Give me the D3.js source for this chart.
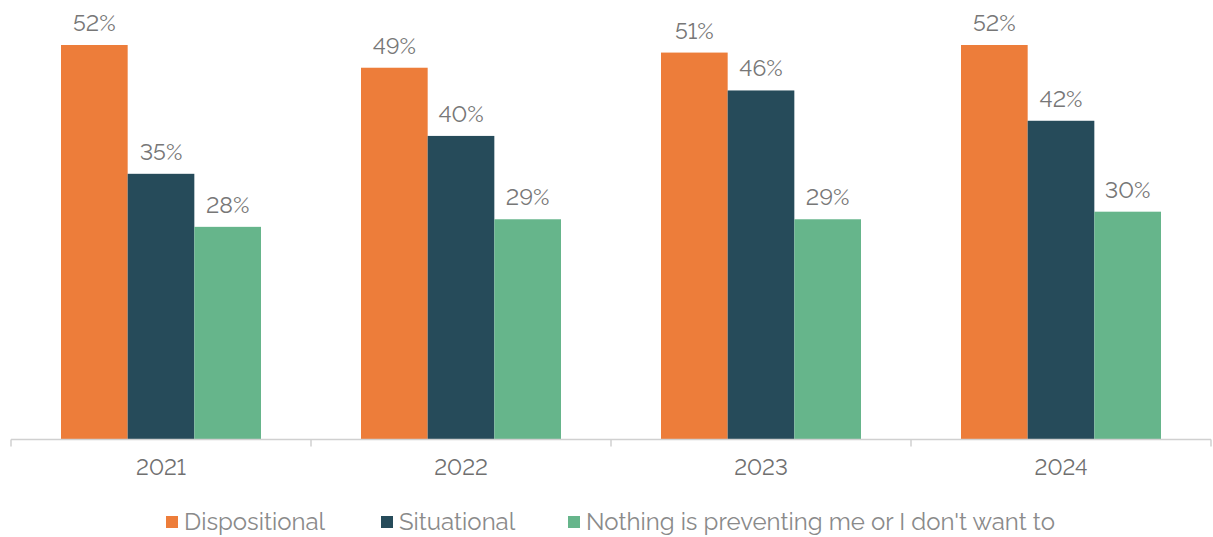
<!DOCTYPE html>
<html>
<head>
<meta charset="utf-8">
<script src="https://cdn.jsdelivr.net/npm/d3@7"></script>
<style>
  body { margin: 0; background: #fff; }
  svg text { font-family: Raleway, Lato, 'Open Sans', sans-serif; font-variant-numeric: lining-nums; font-feature-settings: 'lnum' 1; }
</style>
</head>
<body>
<svg id="chart-svg" width="1213" height="537"></svg>
<script>
const YEARS = ['2021', '2022', '2023', '2024'];
const SERIES = ['Dispositional', 'Situational', "Nothing is preventing me or I don't want to"];
const DISPOSITIONAL = [52, 49, 51, 52];
const SITUATIONAL = [35, 40, 46, 42];
const NOTHING = [28, 29, 29, 30];
const COLORS = ['#ED7D3A', '#264B5A', '#66B58B'];

const svg = d3.select('#chart-svg');
const margin = { left: 11, right: 2, top: 0, bottom: 98 };
const width = 1213, height = 537;
const baseY = height - margin.bottom; // 439

const valuesBySeries = [DISPOSITIONAL, SITUATIONAL, NOTHING];
let rows = [];
YEARS.forEach((yr, i) => {
	SERIES.forEach((s, j) => rows.push({ year: yr, series: j, value: valuesBySeries[j][i] }));
});

// scales
const x0 = d3.scaleBand(YEARS, [margin.left, width - margin.right]).paddingInner(0).paddingOuter(0);
const x1 = d3.scaleBand(d3.range(SERIES.length), [0, x0.bandwidth()]).paddingOuter(0.75).paddingInner(0);
const y = d3.scaleLinear([0, 52], [baseY, 45]);

// bars
svg.append('g')
	.selectAll('rect')
	.data(rows)
	.enter()
	.append('rect')
	.attr('x', (d) => x0(d.year) + x1(d.series))
	.attr('y', (d) => y(d.value))
	.attr('width', x1.bandwidth())
	.attr('height', (d) => baseY - y(d.value))
	.attr('fill', (d) => COLORS[d.series]);

// value labels
svg.append('g')
	.selectAll('text')
	.data(rows)
	.enter()
	.append('text')
	.attr('x', (d) => x0(d.year) + x1(d.series) + x1.bandwidth() / 2)
	.attr('y', (d) => y(d.value) - 14)
	.attr('text-anchor', 'middle')
	.attr('font-size', 23)
	.attr('fill', '#777')
	.text((d) => d.value + '%');

// axis: line plus ticks at group boundaries
let axisG = svg.append('g').attr('transform', `translate(0, ${baseY + 0.5})`);
axisG.append('line')
	.attr('x1', margin.left).attr('x2', width - margin.right)
	.attr('stroke', '#d0d0d0').attr('stroke-width', 1.5);
const bounds = YEARS.map((yr) => x0(yr)).concat([width - margin.right]);
axisG.selectAll('line.tick')
	.data(bounds)
	.enter()
	.append('line')
	.attr('class', 'tick')
	.attr('x1', (d) => d).attr('x2', (d) => d)
	.attr('y1', 0).attr('y2', 7)
	.attr('stroke', '#d0d0d0').attr('stroke-width', 1.5);
axisG.selectAll('text')
	.data(YEARS)
	.enter()
	.append('text')
	.attr('x', (d) => x0(d) + x0.bandwidth() / 2)
	.attr('y', 35)
	.attr('text-anchor', 'middle')
	.attr('font-size', 22)
	.attr('fill', '#707070')
	.text((d) => d);

// legend
const legendX = [166, 381, 568];
let legendG = svg.append('g').attr('transform', 'translate(0, 516)');
let items = legendG.selectAll('g').data(SERIES).enter().append('g')
	.attr('transform', (d, i) => `translate(${legendX[i]}, 0)`);
items.append('rect').attr('width', 12).attr('height', 12).attr('fill', (d, i) => COLORS[i]);
items.append('text')
	.attr('x', 18).attr('y', 13.5)
	.attr('font-size', 24)
	.attr('fill', '#8a8a8a')
	.text((d) => d);
</script>
</body>
</html>
